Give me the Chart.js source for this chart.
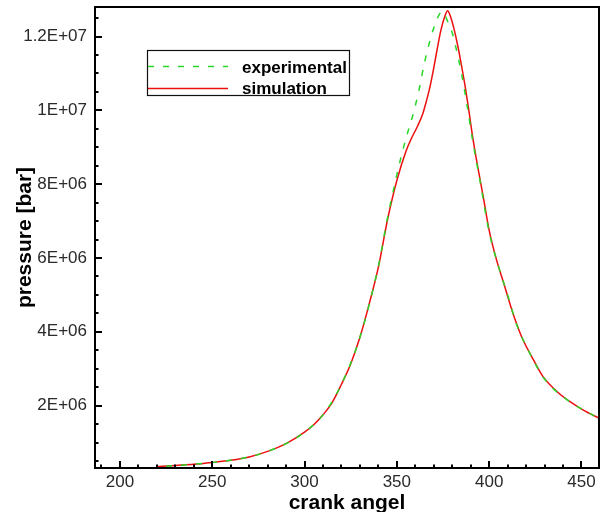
<!DOCTYPE html>
<html>
<head>
<meta charset="utf-8">
<script src="https://cdn.jsdelivr.net/npm/chart.js@4"></script>
<style>
html,body{margin:0;padding:0;background:#fff;}
#wrap{width:603px;height:512px;position:relative;overflow:hidden;}
</style>
</head>
<body>
<div id="wrap"><canvas id="c" width="603" height="512"></canvas></div>
<script>
// ---- data ----
const simAngle = [220,230,240,250,260,270,280,290,300,305,310,315,320,325,330,335,340,345,350,355,358,361,364,366,368,370,372,374,376,377.5,379,381,383,385,387,389,391,393,395,397,400,404,408,412,415,418,424,429,437,444,451,459.5];
const simPressure = [0.35e6,0.38e6,0.41e6,0.46e6,0.52e6,0.61e6,0.76e6,0.97e6,1.28e6,1.48e6,1.75e6,2.09e6,2.58e6,3.13e6,3.85e6,4.75e6,5.75e6,7.05e6,8.1e6,8.9e6,9.25e6,9.55e6,9.9e6,10.25e6,10.65e6,11.15e6,11.7e6,12.2e6,12.55e6,12.7e6,12.55e6,12.2e6,11.75e6,11.22e6,10.65e6,10.0e6,9.3e6,8.7e6,8.15e6,7.6e6,6.75e6,5.95e6,5.3e6,4.64e6,4.2e6,3.82e6,3.24e6,2.8e6,2.37e6,2.1e6,1.88e6,1.66e6];
const expAngle = [225,240,250,260,270,280,290,300,310,320,330,340,345,350,353,356,359,362,365,368,371,373,374.5,376,378,380,382,385,388,391,395,400,405,410,415,420,430,440,450,457];
const expPressure = [0.36e6,0.41e6,0.46e6,0.52e6,0.61e6,0.76e6,0.97e6,1.28e6,1.75e6,2.58e6,3.85e6,5.78e6,7.1e6,8.25e6,8.88e6,9.42e6,9.93e6,10.55e6,11.3e6,11.9e6,12.38e6,12.6e6,12.68e6,12.58e6,12.35e6,12.1e6,11.7e6,11.0e6,10.15e6,9.2e6,8.1e6,6.7e6,5.78e6,5.0e6,4.18e6,3.62e6,2.72e6,2.24e6,1.91e6,1.72e6];
const xMajorTicks = [200,250,300,350,400,450];
const yMajorTicks = [2e6,4e6,6e6,8e6,10e6,12e6];
const yTickLabels = ['2E+06','4E+06','6E+06','8E+06','1E+07','1.2E+07'];
const seriesNames = ['experimental','simulation'];

const FONT = '"Liberation Sans", Arial, sans-serif';

const framePlugin = {
  id: 'frame',
  afterDraw(chart) {
    const ctx = chart.ctx, a = chart.chartArea;
    const xs = chart.scales.x, ys = chart.scales.y;
    ctx.save();
    // ticks (inward)
    ctx.strokeStyle = '#000';
    ctx.lineWidth = 2;
    ctx.beginPath();
    for (let v = 190; v <= 459; v += 10) {
      const px = Math.round(xs.getPixelForValue(v));
      const len = (v % 50 === 0) ? 7 : 3.5;
      ctx.moveTo(px, a.bottom); ctx.lineTo(px, a.bottom - len);
    }
    for (let v = 0.5e6; v <= 12.8e6; v += 0.5e6) {
      const py = Math.round(ys.getPixelForValue(v));
      if (py < a.top + 1 || py > a.bottom - 1) continue;
      const len = (Math.round(v) % 2e6 === 0) ? 7 : 3.5;
      ctx.moveTo(a.left, py); ctx.lineTo(a.left + len, py);
    }
    ctx.stroke();
    // frame
    ctx.lineWidth = 2;
    ctx.strokeRect(a.left, a.top, a.right - a.left, a.bottom - a.top);
    // legend
    const bx = 147.5, by = 50.5, bw = 202, bh = 45;
    ctx.lineWidth = 1.2;
    ctx.strokeStyle = '#111';
    ctx.fillStyle = '#fff';
    ctx.fillRect(bx, by, bw, bh);
    ctx.strokeRect(bx, by, bw, bh);
    const ds = chart.data.datasets;
    ctx.lineWidth = 1.5;
    ctx.strokeStyle = ds[0].borderColor;
    ctx.setLineDash(ds[0].borderDash);
    ctx.beginPath(); ctx.moveTo(148, 66.5); ctx.lineTo(228, 66.5); ctx.stroke();
    ctx.setLineDash([]);
    ctx.strokeStyle = ds[1].borderColor;
    ctx.beginPath(); ctx.moveTo(148, 88.5); ctx.lineTo(228, 88.5); ctx.stroke();
    ctx.fillStyle = '#000';
    ctx.font = 'bold 17px ' + FONT;
    ctx.textBaseline = 'alphabetic';
    ctx.textAlign = 'left';
    ctx.fillText(seriesNames[0], 242, 72.5);
    ctx.fillText(seriesNames[1], 242, 93.5);
    ctx.restore();
  }
};

new Chart(document.getElementById('c'), {
  type: 'line',
  data: {
    datasets: [
      {
        label: seriesNames[0],
        data: expAngle.map((x, i) => ({x: x, y: expPressure[i]})),
        borderColor: 'rgb(40,215,40)',
        borderDash: [6, 9],
        borderWidth: 1.5,
        pointRadius: 0,
        fill: false,
        cubicInterpolationMode: 'monotone'
      },
      {
        label: seriesNames[1],
        data: simAngle.map((x, i) => ({x: x, y: simPressure[i]})),
        borderColor: 'rgb(235,15,15)',
        borderWidth: 1.5,
        pointRadius: 0,
        fill: false,
        cubicInterpolationMode: 'monotone'
      }
    ]
  },
  options: {
    responsive: false,
    animation: false,
    devicePixelRatio: 1,
    layout: {padding: {top: 7, right: 4, left: 0, bottom: 0}},
    plugins: {legend: {display: false}, tooltip: {enabled: false}},
    scales: {
      x: {
        type: 'linear',
        min: 186.5,
        max: 459.5,
        afterBuildTicks: s => { s.ticks = xMajorTicks.map(v => ({value: v})); },
        afterFit: s => { s.height = 44; s.paddingLeft = 0; s.paddingRight = 0; },
        grid: {display: false, drawTicks: false},
        border: {display: true, color: '#000', width: 2},
        ticks: {
          padding: 4,
          color: '#2a2a2a',
          font: {family: FONT, size: 17},
          maxRotation: 0,
          autoSkip: false,
          callback: v => String(v)
        },
        title: {
          display: true,
          text: 'crank angel',
          color: '#000',
          font: {family: FONT, size: 21, weight: 'bold', lineHeight: 1.2},
          padding: {top: 0, bottom: -4}
        }
      },
      y: {
        type: 'linear',
        min: 0.31e6,
        max: 12.8e6,
        afterBuildTicks: s => { s.ticks = yMajorTicks.map(v => ({value: v})); },
        afterFit: s => { s.width = 95; s.paddingTop = 0; s.paddingBottom = 0; },
        grid: {display: false, drawTicks: false},
        border: {display: true, color: '#000', width: 2},
        ticks: {
          padding: 8,
          color: '#2a2a2a',
          font: {family: FONT, size: 17},
          autoSkip: false,
          callback: (v) => yTickLabels[yMajorTicks.indexOf(v)]
        },
        title: {
          display: true,
          text: 'pressure [bar]',
          color: '#000',
          font: {family: FONT, size: 21, weight: 'bold', lineHeight: 1.2},
          padding: {top: 13, bottom: 0}
        }
      }
    }
  },
  plugins: [framePlugin]
});
</script>
</body>
</html>
